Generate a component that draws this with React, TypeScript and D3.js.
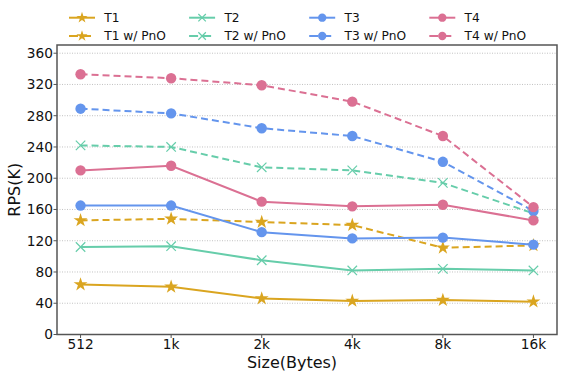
import React from "react"
import * as d3 from "d3"

// message sizes on the x axis
const sizes = ["512", "1k", "2k", "4k", "8k", "16k"]

// RPS in thousands
const t1 = [64, 61, 46, 43, 44, 42]
const t1Pno = [146, 148, 144, 140, 111, 114]
const t2 = [112, 113, 95, 82, 84, 82]
const t2Pno = [242, 240, 214, 210, 194, 155]
const t3 = [165, 165, 131, 123, 124, 115]
const t3Pno = [289, 283, 264, 254, 221, 158]
const t4 = [210, 216, 170, 164, 166, 146]
const t4Pno = [333, 328, 319, 298, 254, 163]

const yTicks = [0, 40, 80, 120, 160, 200, 240, 280, 320, 360]

const series = [
	{ name: "T1", values: t1, color: "#DAA520", marker: "star", dashed: false },
	{ name: "T1 w/ PnO", values: t1Pno, color: "#DAA520", marker: "star", dashed: true },
	{ name: "T2", values: t2, color: "#66CDAA", marker: "x", dashed: false },
	{ name: "T2 w/ PnO", values: t2Pno, color: "#66CDAA", marker: "x", dashed: true },
	{ name: "T3", values: t3, color: "#6495ED", marker: "circle", dashed: false },
	{ name: "T3 w/ PnO", values: t3Pno, color: "#6495ED", marker: "circle", dashed: true },
	{ name: "T4", values: t4, color: "#DB7093", marker: "circle", dashed: false },
	{ name: "T4 w/ PnO", values: t4Pno, color: "#DB7093", marker: "circle", dashed: true },
]

const font = "DejaVu Sans, sans-serif"

const Marker = ({ type, color, x, y, scale = 1 }) => {
	if (type === "circle") return <circle cx={x} cy={y} r={5.2 * scale} fill={color} />
	if (type === "star") {
		const p = d3.symbol(d3.symbolStar, 60 * scale * scale)()
		return <path d={p} transform={`translate(${x},${y})`} fill={color} />
	}
	const p = d3.symbol(d3.symbolTimes, 60 * scale * scale)()
	return (
		<path d={p} transform={`translate(${x},${y})`} fill="none" stroke={color} strokeWidth={1.2} />
	)
}

const App = () => {
	const width = 564
	const height = 379
	const margin = { top: 45, right: 7, bottom: 44.5, left: 57 }

	const x = d3
		.scalePoint()
		.domain(sizes)
		.range([margin.left, width - margin.right])
		.padding(0.26)
	const y = d3
		.scaleLinear()
		.domain([0, 370.5])
		.range([height - margin.bottom, margin.top])

	const line = d3
		.line()
		.x((d, i) => x(sizes[i]))
		.y((d) => y(d))

	const bottom = height - margin.bottom
	const right = width - margin.right

	return (
		<svg
			width={width}
			height={height}
			style={{ position: "absolute", left: 0, top: 0, background: "#fff" }}
			fontFamily={font}
		>
			{/* grid */}
			{yTicks.slice(1).map((t) => (
				<line
					key={t}
					x1={margin.left}
					x2={right}
					y1={y(t)}
					y2={y(t)}
					stroke="#bbb"
					strokeWidth={0.9}
					strokeDasharray="1,1.5"
				/>
			))}

			{/* series */}
			{series.map((s) => (
				<g key={s.name}>
					<path
						d={line(s.values)}
						fill="none"
						stroke={s.color}
						strokeWidth={2}
						strokeDasharray={s.dashed ? "7,4" : null}
					/>
					{s.values.map((v, i) => (
						<Marker key={i} type={s.marker} color={s.color} x={x(sizes[i])} y={y(v)} />
					))}
				</g>
			))}

			{/* frame */}
			<rect
				x={margin.left}
				y={margin.top}
				width={right - margin.left}
				height={bottom - margin.top}
				fill="none"
				stroke="#555"
				strokeWidth={1.5}
			/>

			{/* y axis */}
			{yTicks.map((t) => (
				<g key={t}>
					<line x1={margin.left - 3.5} x2={margin.left} y1={y(t)} y2={y(t)} stroke="#555" />
					<text
						x={margin.left - 4}
						y={y(t)}
						dy="0.36em"
						textAnchor="end"
						fontSize={13.7}
						fill="#111"
					>
						{t}
					</text>
				</g>
			))}
			<text
				transform={`translate(14,${(margin.top + bottom) / 2}) rotate(-90)`}
				textAnchor="middle"
				dy="0.36em"
				fontSize={16}
				fill="#111"
			>
				RPS(K)
			</text>

			{/* x axis */}
			{sizes.map((s) => (
				<g key={s}>
					<line x1={x(s)} x2={x(s)} y1={bottom} y2={bottom + 3.5} stroke="#555" />
					<text x={x(s)} y={bottom + 14.5} textAnchor="middle" fontSize={13.7} fill="#111">
						{s}
					</text>
				</g>
			))}
			<text x={292} y={367.5} textAnchor="middle" fontSize={16} fill="#111">
				Size(Bytes)
			</text>

			{/* legend */}
			{series.map((s, i) => {
				const col = Math.floor(i / 2)
				const row = i % 2
				const lx = 69 + col * 120.1
				const ly = 17.7 + row * 18.3
				return (
					<g key={s.name}>
						<line
							x1={lx}
							x2={lx + 26}
							y1={ly}
							y2={ly}
							stroke={s.color}
							strokeWidth={2}
							strokeDasharray={s.dashed ? "9,4" : null}
						/>
						<Marker type={s.marker} color={s.color} x={lx + 13} y={ly} scale={0.8} />
						<text x={lx + 35.3} y={ly} dy="0.36em" fontSize={12.2} fill="#111">
							{s.name}
						</text>
					</g>
				)
			})}
		</svg>
	)
}

export default App
